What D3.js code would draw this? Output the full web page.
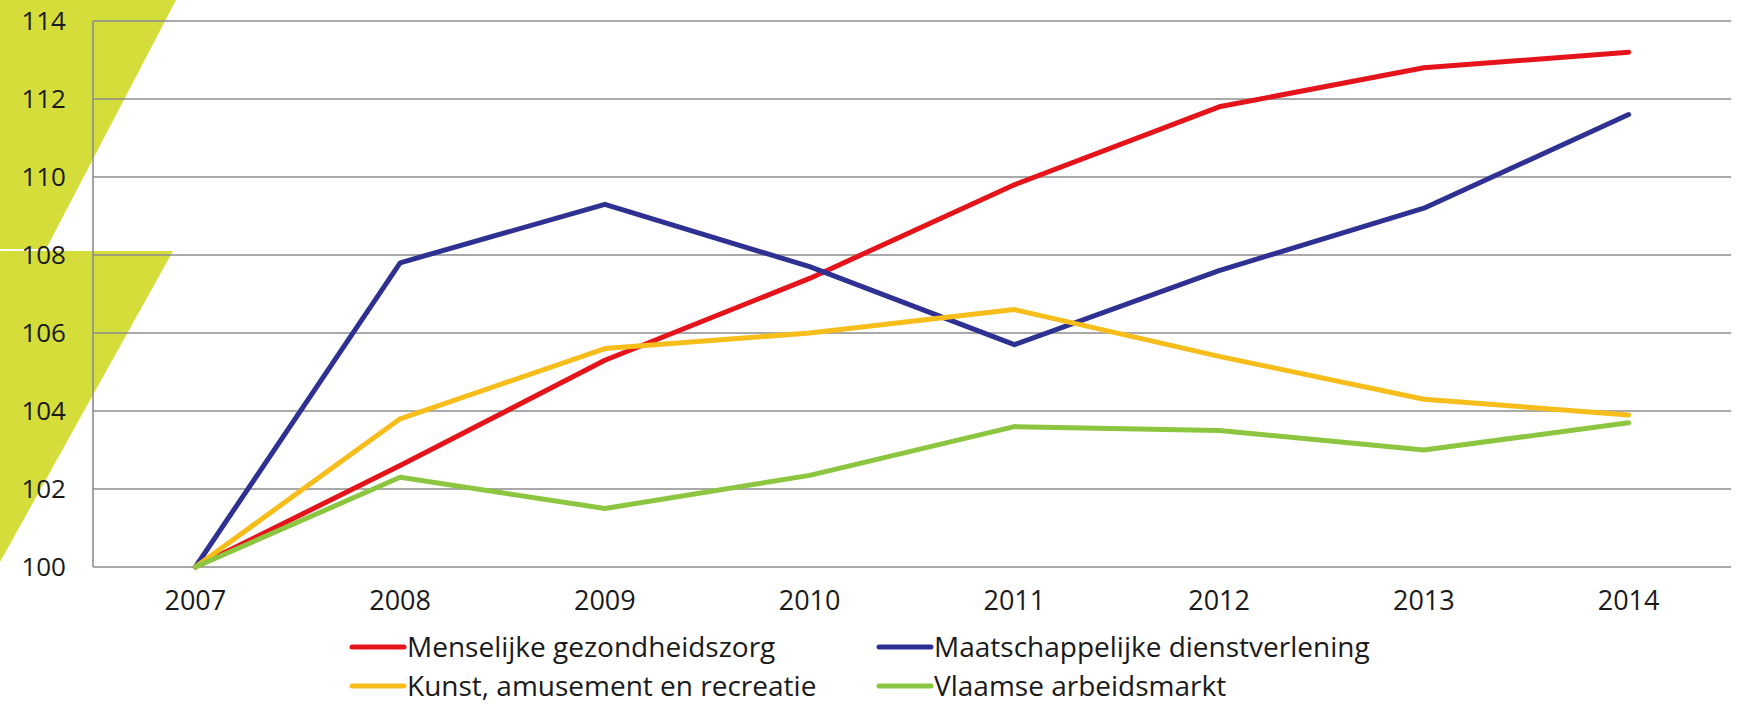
<!DOCTYPE html>
<html lang="nl">
<head>
<meta charset="utf-8">
<title>Index 2007 = 100</title>
<script src="https://d3js.org/d3.v7.min.js"></script>
<style>
  html, body { margin: 0; padding: 0; background: #fff; }
  svg { display: block; }
  .tick-label { font-family: "Open Sans", sans-serif; fill: #1a1a1a; }
  .legend-label { font-family: "Open Sans", sans-serif; fill: #1a1a1a; }
</style>
</head>
<body>
<svg id="chart" width="1738" height="704"></svg>
<script>
  // data
  const years = ["2007", "2008", "2009", "2010", "2011", "2012", "2013", "2014"];
  const yTicks = [100, 102, 104, 106, 108, 110, 112, 114];

  const gezondheidszorg = [100, 102.6, 105.3, 107.4, 109.8, 111.8, 112.8, 113.2];
  const dienstverlening = [100, 107.8, 109.3, 107.7, 105.7, 107.6, 109.2, 111.6];
  const kunst = [100, 103.8, 105.6, 106.0, 106.6, 105.4, 104.3, 103.9];
  const arbeidsmarkt = [100, 102.3, 101.5, 102.35, 103.6, 103.5, 103.0, 103.7];

  const seriesNames = ["Menselijke gezondheidszorg", "Maatschappelijke dienstverlening",
                       "Kunst, amusement en recreatie", "Vlaamse arbeidsmarkt"];
  const seriesValues = [gezondheidszorg, dienstverlening, kunst, arbeidsmarkt];
  const seriesColors = ["#e5141b", "#2e3192", "#f6bd1b", "#8cc640"];

  const svg = d3.select("#chart");
  const plotLeft = 93, plotRight = 1731, plotTop = 21, plotBottom = 567;

  // decorative yellow-green wedges on the left
  const deco = "#d4dd3a";
  svg.append("polygon")
     .attr("points", "0,0 176,0 46,249 0,249")
     .attr("fill", deco);
  svg.append("polygon")
     .attr("points", "0,251 173,251 0,562")
     .attr("fill", deco);

  const x = d3.scalePoint().domain(years).range([plotLeft, plotRight]).padding(0.5);
  const y = d3.scaleLinear().domain([100, 114]).range([plotBottom, plotTop]);

  // gridlines
  svg.append("g")
     .selectAll("line")
     .data(yTicks)
     .enter()
     .append("line")
     .attr("x1", plotLeft).attr("x2", plotRight)
     .attr("y1", d => y(d)).attr("y2", d => y(d))
     .attr("stroke", "#8c8c8c")
     .attr("stroke-width", 1.6);

  // left axis line
  svg.append("line")
     .attr("x1", plotLeft).attr("x2", plotLeft)
     .attr("y1", y(114)).attr("y2", y(100))
     .attr("stroke", "#8c8c8c")
     .attr("stroke-width", 1.6);

  // y labels
  svg.append("g")
     .selectAll("text")
     .data(yTicks)
     .enter()
     .append("text")
     .attr("class", "tick-label")
     .attr("x", 66)
     .attr("y", d => y(d))
     .attr("dy", "0.35em")
     .attr("text-anchor", "end")
     .style("font-size", "26px")
     .text(d => d);

  // x labels
  svg.append("g")
     .selectAll("text")
     .data(years)
     .enter()
     .append("text")
     .attr("class", "tick-label")
     .attr("x", d => x(d))
     .attr("y", 601)
     .attr("dy", "0.35em")
     .attr("text-anchor", "middle")
     .style("font-size", "27px")
     .text(d => d);

  // lines
  const line = d3.line()
                 .x((d, i) => x(years[i]))
                 .y(d => y(d));

  svg.append("g")
     .selectAll("path")
     .data(seriesValues)
     .enter()
     .append("path")
     .attr("d", d => line(d))
     .attr("fill", "none")
     .attr("stroke", (d, i) => seriesColors[i])
     .attr("stroke-width", 5)
     .attr("stroke-linejoin", "round")
     .attr("stroke-linecap", "round");

  // legend
  const legendX = [352, 879];
  const legendY = [647, 686];
  const legend = svg.append("g")
                    .selectAll("g")
                    .data(seriesNames)
                    .enter()
                    .append("g")
                    .attr("transform", (d, i) => `translate(${legendX[i % 2]},${legendY[Math.floor(i / 2)]})`);

  legend.append("line")
        .attr("x1", 0).attr("x2", 52)
        .attr("y1", 0).attr("y2", 0)
        .attr("stroke", (d, i) => seriesColors[i])
        .attr("stroke-width", 5)
        .attr("stroke-linecap", "round");

  legend.append("text")
        .attr("class", "legend-label")
        .attr("x", 55)
        .attr("y", 0)
        .attr("dy", "0.35em")
        .style("font-size", "28px")
        .text(d => d);
</script>
</body>
</html>
